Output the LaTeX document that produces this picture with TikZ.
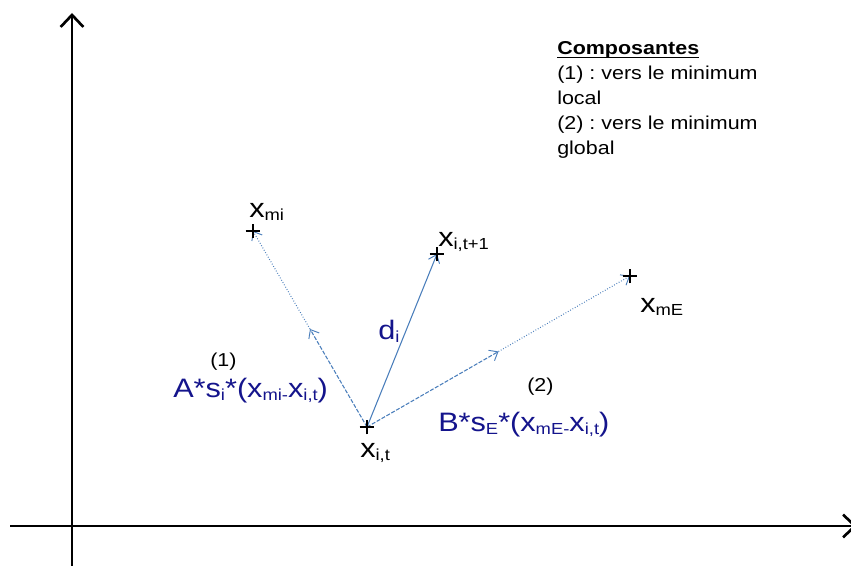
\documentclass[tikz,border=0pt]{standalone}
\usepackage{fontspec}
\setmainfont[FakeStretch=1.15]{Liberation Sans}
\usetikzlibrary{arrows.meta,calc}
\definecolor{navy}{RGB}{20,20,140}
\definecolor{lblue}{RGB}{74,126,187}
\newcommand\sbx[1]{\raisebox{-2pt}{\fontsize{12}{12}\selectfont #1}}
\newcommand\myul[1]{\setbox0\hbox{#1}\rlap{\rule[-2.4pt]{\wd0}{0.9pt}}\box0}
\frenchspacing
\begin{document}
\begin{tikzpicture}[x=0.75pt,y=-0.75pt,
  axis/.style={line width=2pt,-{Straight Barb[length=9pt,width=17pt,line width=2pt]}},
  vec/.style={lblue,line width=0.8pt,-{Straight Barb[length=5.5pt,width=9pt,line width=0.7pt]}},
  dsh/.style={vec,dash pattern=on 3pt off 1.2pt},
  dts/.style={vec,dash pattern=on 0.6pt off 1.4pt},
  crossst/.style={black,line width=1pt},
  lab/.style={inner sep=0pt,anchor=base west,font=\fontsize{20}{24}\selectfont},
  blab/.style={lab,text=navy},
  small/.style={inner sep=0pt,anchor=base west,font=\fontsize{14}{18}\selectfont}]
\useasboundingbox (0,0) rectangle (851,566);
% axes
\coordinate (ys) at (72,570);
\coordinate (ye) at (72,13);
\coordinate (xs) at (10,526);
\coordinate (xe) at (857,526);
\draw[axis] (ys) -- (ye);
\draw[axis] (xs) -- (xe);
% points
\coordinate (xit) at (367,427);
\coordinate (xmi) at (253,231);
\coordinate (xnext) at (437,254);
\coordinate (xmE) at (630,276);
\coordinate (m1) at ($(xit)!0.5!(xmi)$);
\coordinate (m2) at ($(xit)!0.5!(xmE)$);
% vectors
\draw[dsh] (xit) -- (m1);
\draw[dts] (m1) -- (xmi);
\draw[dsh] (xit) -- (m2);
\draw[dts] (m2) -- (xmE);
\draw[vec] (xit) -- (xnext);
% crosses
\foreach \p in {xit,xmi,xnext,xmE}{
  \draw[crossst] ([xshift=-5.5pt]\p) -- ([xshift=5.5pt]\p)
                 ([yshift=-5.5pt]\p) -- ([yshift=5.5pt]\p);
}
% labels
\node[lab] (lxit) at (360,458) {x\sbx{i,t}};
\node[lab] (lxmi) at (249,218) {x\sbx{mi}};
\node[lab] (lxnext) at (438,247) {x\sbx{i,t+1}};
\node[lab] (lxmE) at (640,313) {x\sbx{mE}};
\node[blab] (ldi) at (378,340) {d\sbx{i}};
\node[small] (l1) at (210,367) {(1)};
\node[blab] (la) at (173,398) {A*s\sbx{i}*(x\sbx{mi-}x\sbx{i,t})};
\node[small] (l2) at (527,392) {(2)};
\node[blab] (lb) at (438,432) {B*s\sbx{E}*(x\sbx{mE-}x\sbx{i,t})};
% legend
\node[inner sep=0pt,anchor=north west,align=left,font=\fontsize{14}{18.75}\selectfont] (leg) at (557,41.5)
  {\myul{\textbf{Composantes}}\\(1) : vers le minimum\\local\\(2) : vers le minimum\\global};
\end{tikzpicture}
\end{document}
